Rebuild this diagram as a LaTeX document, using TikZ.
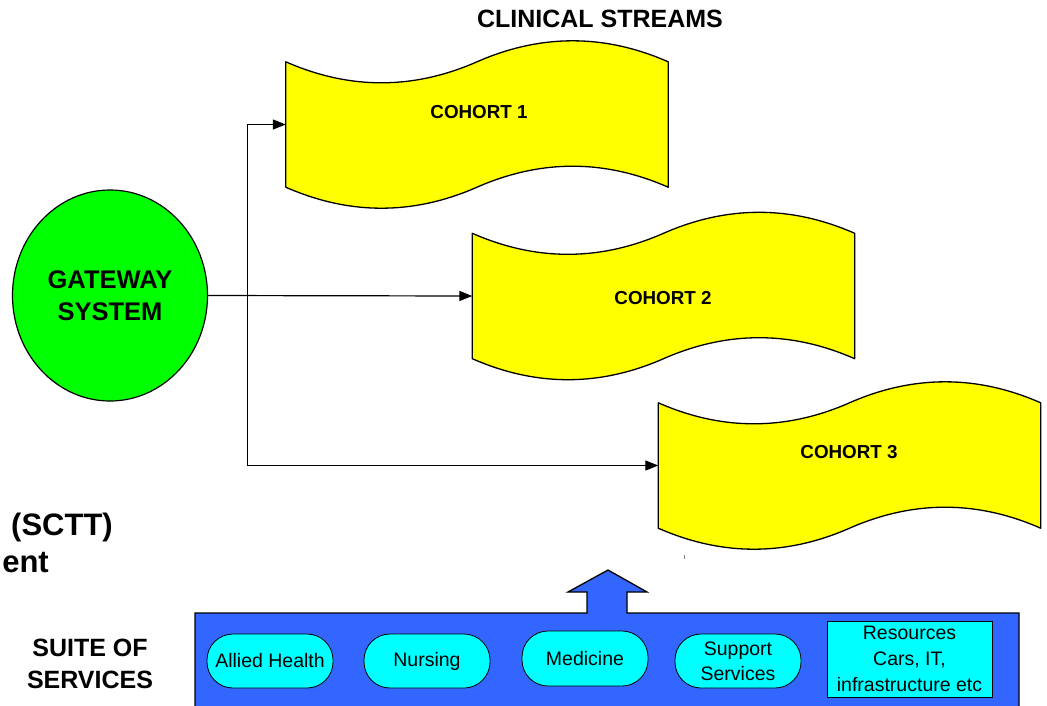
\documentclass[tikz,border=0pt]{standalone}
\usepackage{fontspec}
\setmainfont{Liberation Sans}
\usetikzlibrary{shapes.geometric,arrows.meta,calc}
\definecolor{tapeyellow}{HTML}{FFFF00}
\definecolor{gwgreen}{HTML}{00FF00}
\definecolor{barblue}{HTML}{3366FF}
\definecolor{svccyan}{HTML}{00FFFF}
\begin{document}
\begin{tikzpicture}[x=1pt,y=-1pt,
  gateway/.style={ellipse,draw,fill=gwgreen,minimum width=195pt,minimum height=211pt,inner sep=0pt,
    line width=1.2pt,align=center,font=\bfseries\fontsize{25.5}{32}\selectfont},
  tapebox/.style={rectangle,draw=none,minimum width=382pt,minimum height=125pt,inner sep=0pt},
  tapeline/.style={draw=black,fill=tapeyellow,line width=1.3pt,line join=round},
  cohortlbl/.style={font=\bfseries\fontsize{18.8}{22}\selectfont,inner sep=0pt},
  conn/.style={line width=1.2pt,-{Triangle[length=13pt,width=10pt]}},
  bar/.style={fill=barblue,draw=black,line width=1.3pt},
  svc/.style={rectangle,rounded corners=26pt,draw,fill=svccyan,minimum width=126pt,minimum height=54pt,
    inner sep=0pt,line width=0.8pt,align=center,font=\fontsize{19.5}{25}\selectfont},
  res/.style={rectangle,draw,fill=svccyan,minimum width=165pt,minimum height=76pt,
    inner sep=0pt,line width=0.8pt,align=center,font=\fontsize{19.5}{26}\selectfont},
  boldlbl/.style={font=\bfseries\fontsize{25}{32}\selectfont,align=center,inner sep=0pt},
  fraglbl/.style={font=\bfseries\fontsize{31}{36}\selectfont,inner sep=0pt,anchor=base east}
]
\clip (0,0) rectangle (1047,705);
\fill[white] (0,0) rectangle (1047,705);

% title
\node[boldlbl] (title) at (600,19) {CLINICAL STREAMS};

% cohort shapes
\node[tapebox] (c1) at (477,124.5) {};
\node[tapebox] (c2) at (663.5,296) {};
\node[tapebox] (c3) at (849.5,465.5) {};
\foreach \n in {c1,c2,c3}{
  \draw[tapeline] (\n.north west) .. controls +(63.7,28) and +(-63.7,28) .. (\n.north)
     .. controls +(63.7,-28) and +(-63.7,-28) .. (\n.north east) -- (\n.south east)
     .. controls +(-63.7,-28) and +(63.7,-28) .. (\n.south)
     .. controls +(-63.7,28) and +(63.7,28) .. (\n.south west) -- cycle;
}
\node[cohortlbl] (l1) at (479,112) {COHORT 1};
\node[cohortlbl] (l2) at (663,298) {COHORT 2};
\node[cohortlbl] (l3) at (849,452) {COHORT 3};

% gateway
\node[gateway] (gw) at (110,295.5) {GATEWAY\\SYSTEM};
\coordinate (split) at ($(gw.east)+(39,0)$);
\draw[conn] (gw.east) -- (c2.west);
\draw[conn] (split) |- (c1.west);
\draw[conn] (split) |- (c3.west);

% left fragments
\node[fraglbl] (sctt) at (113,535) {(SCTT)};
\node[fraglbl] (ent) at (49,572) {ent};
\node[boldlbl] (suite) at (90,664) {SUITE OF\\SERVICES};

% small tick
\coordinate (tk) at (684,555);
\draw[gray,line width=0.7pt] (tk) -- ++(0,4);

% services bar with up arrow
\filldraw[bar] (195,706) -- (195,613) -- (587,613) -- (587,592) -- (568,592) -- (608,570)
  -- (647,592) -- (627,592) -- (627,613) -- (1019,613) -- (1019,706);

\node[svc] (ah) at (270,661) {Allied Health};
\node[svc] (nu) at (427,661) {Nursing};
\node[svc,minimum height=55pt] (me) at (585,658.5) {Medicine};
\node[svc] (ss) at (738,661) {Support\\Services};
\node[res] (rs) at (909.5,659) {Resources\\Cars, IT,\\infrastructure etc};
\end{tikzpicture}
\end{document}
